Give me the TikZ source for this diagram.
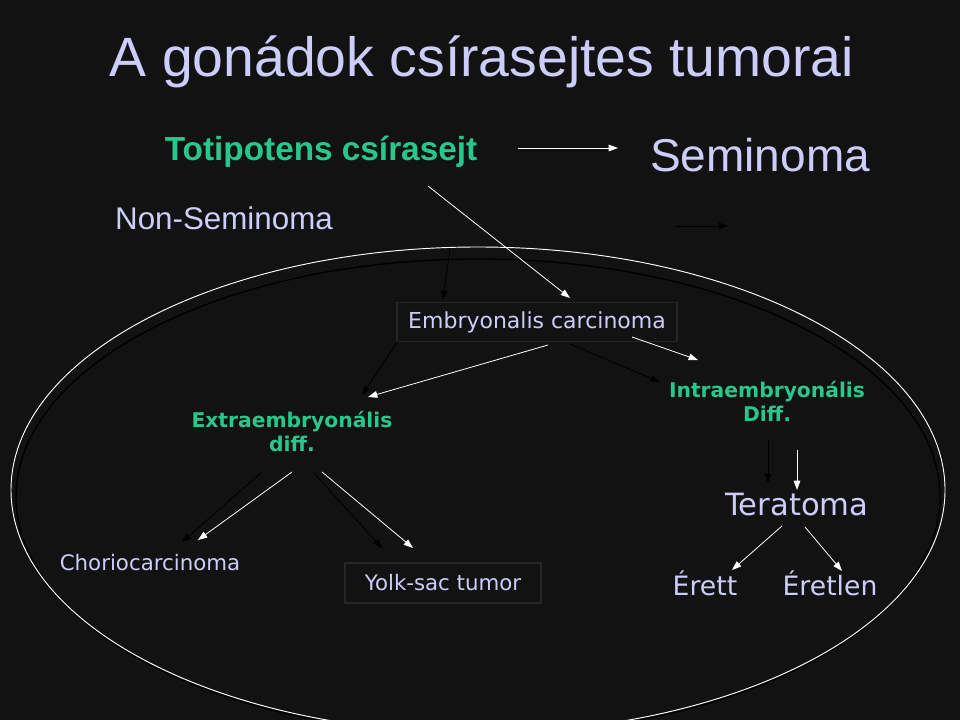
\documentclass[tikz,border=0pt]{standalone}
\usepackage{fontspec}
\setmainfont{DejaVu Sans}
\newfontfamily\arialf{Liberation Sans}
\usetikzlibrary{arrows.meta}
\definecolor{bg}{RGB}{18,18,18}
\definecolor{lav}{RGB}{205,205,250}
\definecolor{grn}{RGB}{40,200,140}
\tikzset{
 wa/.style={draw=white,line width=0.6pt,-{Triangle[length=7pt,width=5pt]}},
 ba/.style={draw=black,line width=0.6pt,-{Triangle[length=7pt,width=5pt]}},
 lbl/.style={text=lav,inner sep=1pt},
 glbl/.style={text=grn,inner sep=1pt,font=\fontsize{15.2}{18}\selectfont\bfseries,align=center},
 boxn/.style={draw=black!70!gray,line width=0.8pt,text=lav,inner sep=5pt}
}
\begin{document}
\begin{tikzpicture}[x=0.75pt,y=-0.75pt]
\fill[bg] (0,0) rectangle (960,720);
\useasboundingbox (0,0) rectangle (960,720);
\draw[black,line width=1pt] (478,497) ellipse [x radius=462,y radius=238];
\draw[white,line width=0.7pt] (478,490) ellipse [x radius=467,y radius=243];
\node[text=lav,font=\arialf\fontsize{41.5}{44}\selectfont] (title) at (482,62) {A gonádok csírasejtes tumorai};
\node[text=grn,font=\arialf\fontsize{25}{26}\selectfont\bfseries] (toti) at (321,152) {Totipotens csírasejt};
\node[text=lav,font=\arialf\fontsize{34.5}{36}\selectfont] (sem) at (760,155) {Seminoma};
\node[text=lav,font=\arialf\fontsize{23.5}{25}\selectfont] (nonsem) at (224,218) {Non-Seminoma};
\coordinate (a1) at (518,148); \coordinate (a2) at (618,148);
\draw[wa] (a1) -- (a2);
\coordinate (b1) at (675,226); \coordinate (b2) at (728,226);
\draw[ba] (b1) -- (b2);
\node[boxn,minimum width=280*0.75pt,minimum height=39*0.75pt,font=\fontsize{16.5}{18}\selectfont] (emb) at (537,322) {Embryonalis carcinoma};
\coordinate (c1) at (450,248); \coordinate (c2) at (443,300);
\draw[ba] (c1) -- (c2);
\coordinate (d1) at (428,186); \coordinate (d2) at (570,298);
\draw[wa] (d1) -- (d2);
\node[glbl] (extra) at (292,432) {Extraembryonális\\diff.};
\node[glbl] (intra) at (767,401) {Intraembryonális\\Diff.};
\coordinate (e1) at (398,341); \coordinate (e2) at (362,395);
\draw[ba] (e1) -- (e2);
\coordinate (f1) at (548,345); \coordinate (f2) at (368,397);
\draw[wa] (f1) -- (f2);
\coordinate (g1) at (570,344); \coordinate (g2) at (660,382);
\draw[ba] (g1) -- (g2);
\coordinate (h1) at (632,337); \coordinate (h2) at (698,360);
\draw[wa] (h1) -- (h2);
\coordinate (i1) at (768,440); \coordinate (i2) at (768,483);
\draw[ba] (i1) -- (i2);
\coordinate (j1) at (797,450); \coordinate (j2) at (797,490);
\draw[wa] (j1) -- (j2);
\node[lbl,font=\fontsize{23}{24}\selectfont] (tera) at (797,505) {Teratoma};
\node[lbl,font=\fontsize{20}{22}\selectfont] (erett) at (705,583) {Érett};
\node[lbl,font=\fontsize{20}{22}\selectfont] (eretlen) at (830,583) {Éretlen};
\coordinate (k1) at (782,526); \coordinate (k2) at (732,570);
\draw[wa] (k1) -- (k2);
\coordinate (l1) at (805,527); \coordinate (l2) at (842,571);
\draw[wa] (l1) -- (l2);
\node[lbl,font=\fontsize{16}{18}\selectfont] (chorio) at (150,563) {Choriocarcinoma};
\node[boxn,minimum width=196*0.75pt,minimum height=40*0.75pt,font=\fontsize{16}{18}\selectfont] (yolk) at (443,583) {Yolk-sac tumor};
\coordinate (m1) at (262,472); \coordinate (m2) at (182,542);
\draw[ba] (m1) -- (m2);
\coordinate (n1) at (292,472); \coordinate (n2) at (198,540);
\draw[wa] (n1) -- (n2);
\coordinate (o1) at (313,472); \coordinate (o2) at (382,548);
\draw[ba] (o1) -- (o2);
\coordinate (p1) at (322,472); \coordinate (p2) at (413,548);
\draw[wa] (p1) -- (p2);
\end{tikzpicture}
\end{document}
